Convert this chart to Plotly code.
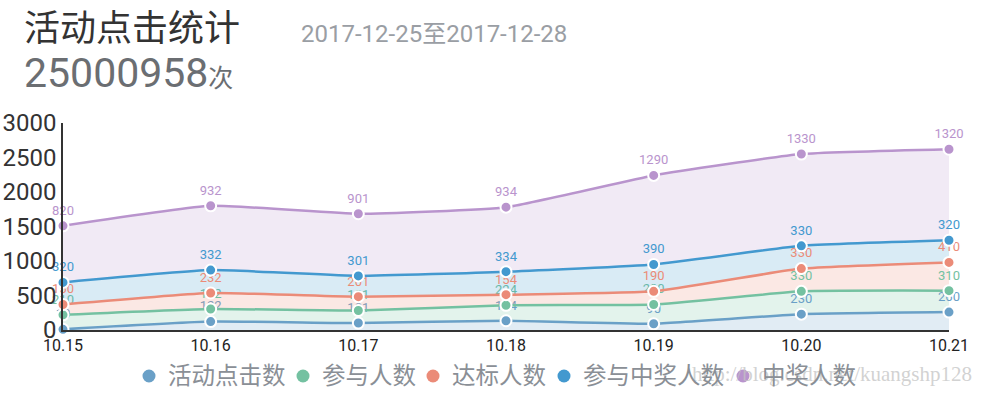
import plotly.graph_objects as go

categories = ["10.15", "10.16", "10.17", "10.18", "10.19", "10.20", "10.21"]
series_names = ["活动点击数", "参与人数", "达标人数", "参与中奖人数", "中奖人数"]
clicks = [10, 122, 101, 134, 90, 230, 260]
participants = [210, 182, 181, 224, 280, 330, 310]
qualified = [150, 232, 201, 154, 190, 330, 410]
part_winners = [320, 332, 301, 334, 390, 330, 320]
winners = [820, 932, 901, 934, 1290, 1330, 1320]
y_ticks = [0, 500, 1000, 1500, 2000, 2500, 3000]

colors = ["#6aa0c7", "#74c1a1", "#eb8b78", "#4399cf", "#b994cd"]
fills = ["rgba(106,160,199,0.2)", "rgba(116,193,161,0.2)", "rgba(235,139,120,0.2)",
         "rgba(67,153,207,0.2)", "rgba(185,148,205,0.2)"]

W, H = 984, 394
L, R, T, B = 63, 35, 123, 64
pw, ph = W - L - R, H - T - B


def px(x):
    return (x - L) / pw


def py(y):
    return (H - B - y) / ph


FONT = "Roboto, 'Noto Sans CJK SC', sans-serif"
xs = list(range(len(categories)))
fig = go.Figure()
all_series = [clicks, participants, qualified, part_winners, winners]
for name, vals, c, f in zip(series_names, all_series, colors, fills):
    fig.add_trace(go.Scatter(
        x=xs, y=vals, name=name, stackgroup="one", mode="lines+markers+text",
        line=dict(color=c, width=2.5, shape="spline", smoothing=0.4),
        fillcolor=f,
        marker=dict(size=11, color=c, line=dict(color="white", width=2)),
        text=[str(v) for v in vals], textposition="top center",
        textfont=dict(color=c, size=13, family=FONT),
        cliponaxis=False, showlegend=False, hoverinfo="skip",
    ))

annotations = [
    dict(text="活动点击统计", x=px(22), y=py(29), xanchor="left", yanchor="middle",
         font=dict(size=36, color="#333333", family=FONT)),
    dict(text="2017-12-25至2017-12-28", x=px(299), y=py(34), xanchor="left", yanchor="middle",
         font=dict(size=24, color="#9a9ea4", family=FONT)),
    dict(text="25000958<span style='font-size:25px'>次</span>", x=px(22), y=py(73),
         xanchor="left", yanchor="middle",
         font=dict(size=41, color="#6b6e72", family=FONT)),
    dict(text="http://blog.csdn.net/kuangshp128", x=px(974), y=py(374), xanchor="right",
         yanchor="middle",
         font=dict(size=21, color="rgba(195,195,195,0.75)", family="'Liberation Serif', serif")),
]

# manual legend (circle + label) laid out like the reference
legend_circle_x = [149, 303, 433, 564, 743]
legend_y = 376
shapes = []
for name, c, cx in zip(series_names, colors, legend_circle_x):
    shapes.append(dict(type="circle", xref="paper", yref="paper",
                       xsizemode="pixel", ysizemode="pixel",
                       xanchor=px(cx), yanchor=py(legend_y),
                       x0=-6.5, x1=6.5, y0=-6.5, y1=6.5,
                       fillcolor=c, line=dict(width=0)))
    annotations.append(dict(text=name, x=px(cx + 17), y=py(legend_y), xanchor="left",
                            yanchor="middle",
                            font=dict(size=23.5, color="#8a8f96", family=FONT)))
for a in annotations:
    a.update(xref="paper", yref="paper", showarrow=False)

fig.update_layout(
    width=W, height=H, margin=dict(l=L, r=R, t=T, b=B, autoexpand=False),
    plot_bgcolor="white", paper_bgcolor="white",
    font=dict(family=FONT),
    annotations=annotations, shapes=shapes, showlegend=False,
    xaxis=dict(range=[0, len(categories) - 1], tickvals=xs, ticktext=categories,
               showgrid=False, zeroline=False, showline=True, linecolor="#333333",
               linewidth=1.5, ticks="", tickfont=dict(size=16, color="#222222")),
    yaxis=dict(range=[0, 3000], tickvals=y_ticks, showgrid=False, zeroline=False,
               showline=True, linecolor="#333333", linewidth=1.5, ticks="",
               tickfont=dict(size=24, color="#333333")),
)
fig.write_html("out.html", config={"displayModeBar": False},
               post_script="document.body.style.margin='0';document.body.style.overflow='hidden';")
